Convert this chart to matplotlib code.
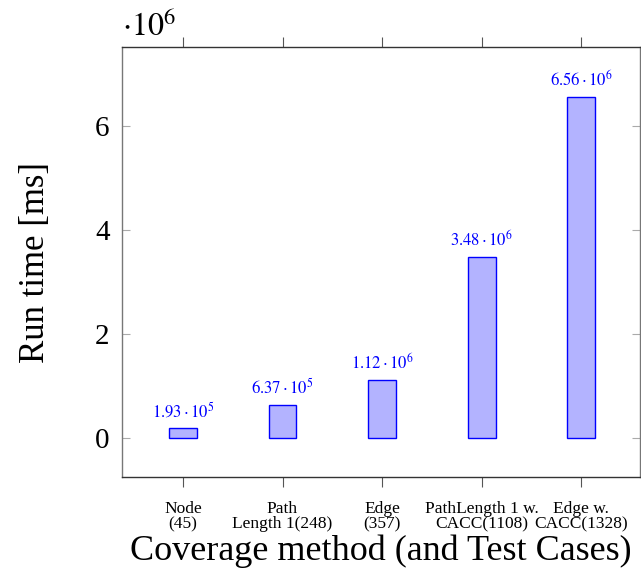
import matplotlib
matplotlib.use("Agg")
import matplotlib.pyplot as plt
from matplotlib.ticker import FuncFormatter, FixedLocator

plt.rcParams['font.family'] = ['Liberation Serif', 'DejaVu Serif']
plt.rcParams['mathtext.fontset'] = 'stix'

categories = ["Node\n(45)", "Path\nLength 1(248)", "Edge\n(357)",
              "PathLength 1 w.\nCACC(1108)", "Edge w.\nCACC(1328)"]
values = [1.93e5, 6.37e5, 1.12e6, 3.48e6, 6.56e6]
value_labels = [r"$1.93\cdot10^{5}$", r"$6.37\cdot10^{5}$", r"$1.12\cdot10^{6}$",
                r"$3.48\cdot10^{6}$", r"$6.56\cdot10^{6}$"]
yticks = [0, 2e6, 4e6, 6e6]

fig = plt.figure(figsize=(6.41, 5.78), dpi=100)
ax = fig.add_axes([0.1906, 0.1747, 0.8079, 0.744])

x = list(range(len(categories)))
ax.bar(x, values, width=0.28, color="#b3b3ff", edgecolor="#0000ff", linewidth=1.0, zorder=3)
for xi, v, lab in zip(x, values, value_labels):
    ax.annotate(lab, (xi, v), xytext=(0, 5), textcoords="offset points",
                ha="center", va="bottom", color="#0000ff", fontsize=12)

ax.set_xlim(-0.61, 4.59)
ax.set_ylim(-0.75e6, 7.52e6)
ax.set_xticks(x)
ax.set_xticklabels(categories, fontsize=12.5, linespacing=0.95)
ax.yaxis.set_major_locator(FixedLocator(yticks))
ax.yaxis.set_major_formatter(FuncFormatter(lambda v, p: f"{v/1e6:.0f}"))
ax.tick_params(axis='y', direction='in', length=6, width=0.8, color='#aaaaaa',
               labelsize=21, left=True, right=True, pad=9)
ax.tick_params(axis='x', direction='out', length=7, width=0.8, color='#555555',
               top=True, bottom=True, pad=10)
for s in ['left', 'right']:
    ax.spines[s].set_color('#777777')
for s in ['top', 'bottom']:
    ax.spines[s].set_color('#333333')
for s in ax.spines.values():
    s.set_linewidth(1.0)

ax.text(0.0, 1.026, r"$\cdot10^{6}$", transform=ax.transAxes, fontsize=23,
        ha="left", va="baseline")
ax.set_ylabel("Run time [ms]", fontsize=25, labelpad=31)
ax.set_xlabel("Coverage method (and Test Cases)", fontsize=26, labelpad=2)

fig.savefig("out.png", dpi=100)
